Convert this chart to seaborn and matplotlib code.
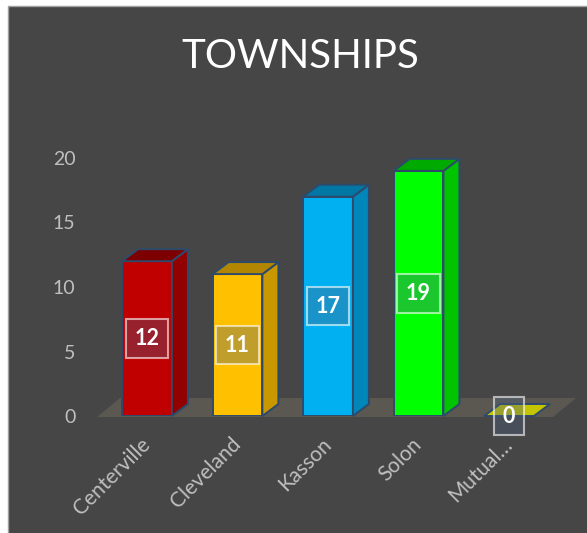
import matplotlib
matplotlib.use("Agg")
import matplotlib.pyplot as plt
import seaborn as sns
import pandas as pd
from matplotlib.patches import Polygon, Rectangle

# Data
townships = ["Centerville", "Cleveland", "Kasson", "Solon", "Mutual…"]
counts = [12, 11, 17, 19, 0]
front_colors = ["#c00000", "#ffc000", "#00b0f0", "#00ff00", "#c4c400"]
side_colors = ["#930000", "#c99700", "#0086b8", "#00c400", "#9a9a00"]
top_colors = ["#7c0000", "#b28600", "#0077a4", "#00aa00", "#c4c400"]

sns.set_theme(style="white")
plt.rcParams["font.family"] = ["Lato", "DejaVu Sans"]

bg = "#464646"
edge = "#2e4a6b"
label_grey = "#bfbfbf"

fig = plt.figure(figsize=(5.87, 5.33), dpi=100)
fig.patch.set_facecolor("white")
fig.add_artist(Rectangle((7.5 / 587, -0.01), 1.0, 1.01 - 5.5 / 533,
                         transform=fig.transFigure, facecolor=bg,
                         edgecolor="#a0a0a0", linewidth=1.0, zorder=-10))

ax = fig.add_axes([0.1733, 0.2195, 0.771, 0.5325])
ax.set_facecolor("none")

df = pd.DataFrame({"Township": townships, "Count": counts})
sns.barplot(data=df, x="Township", y="Count", hue="Township",
            palette=front_colors, saturation=1, width=0.55, edgecolor=edge,
            linewidth=1.4, legend=False, ax=ax, zorder=3)
ax.set_xlim(-0.5, 4.5)
ax.set_ylim(0, 22)

# pixel -> data scale, for the fake 3D depth
p0 = ax.transData.transform((0, 0))
p1 = ax.transData.transform((1, 1))
px_x = p1[0] - p0[0]
px_y = p1[1] - p0[1]
dx, dy = 16 / px_x, 12 / px_y

# floor
fx0, fx1 = -0.552, 4.486
fy0, fy1 = -1 / px_y, 18 / px_y
fsh = 23 / px_x
ax.add_patch(Polygon([(fx0, fy0), (fx1, fy0), (fx1 + fsh, fy1), (fx0 + fsh, fy1)],
                     closed=True, facecolor="#5b5851", edgecolor="none",
                     zorder=1, clip_on=False))

bars = sorted([p for p in ax.patches if isinstance(p, Rectangle)], key=lambda p: p.get_x())
for i, p in enumerate(bars):
    x0, w, h = p.get_x(), p.get_width(), p.get_height()
    side = [(x0 + w, 0), (x0 + w + dx, dy), (x0 + w + dx, h + dy), (x0 + w, h)]
    top = [(x0, h), (x0 + dx, h + dy), (x0 + w + dx, h + dy), (x0 + w, h)]
    if h > 0:
        ax.add_patch(Polygon(side, closed=True, facecolor=side_colors[i],
                             edgecolor=edge, linewidth=1.4, zorder=3, clip_on=False))
    ax.add_patch(Polygon(top, closed=True, facecolor=top_colors[i],
                         edgecolor=edge, linewidth=1.4, zorder=3, clip_on=False))
    ax.text(x0 + w / 2, h / 2, str(counts[i]), ha="center", va="center",
            color="white", fontweight="bold", fontsize=15.5, zorder=6,
            bbox=dict(boxstyle="square,pad=0.4", facecolor=(0.30, 0.38, 0.50, 0.35),
                      edgecolor=(1, 1, 1, 0.6), linewidth=1.5))

fig.text(0.511, 1 - 57 / 533, "TOWNSHIPS", ha="center", va="center",
         fontsize=29, color="white")

ax.set_xlabel("")
ax.set_ylabel("")
ax.set_yticks([0, 5, 10, 15, 20])
ax.tick_params(axis="y", length=0, pad=19, labelsize=14, labelcolor=label_grey)
ax.tick_params(axis="x", length=0, pad=18, labelsize=15, labelcolor=label_grey)
for lab in ax.get_xticklabels():
    lab.set_rotation(45)
    lab.set_ha("right")
    lab.set_va("center")
    lab.set_rotation_mode("anchor")
for s in ax.spines.values():
    s.set_visible(False)
ax.grid(False)

fig.savefig("out.png", dpi=100)
